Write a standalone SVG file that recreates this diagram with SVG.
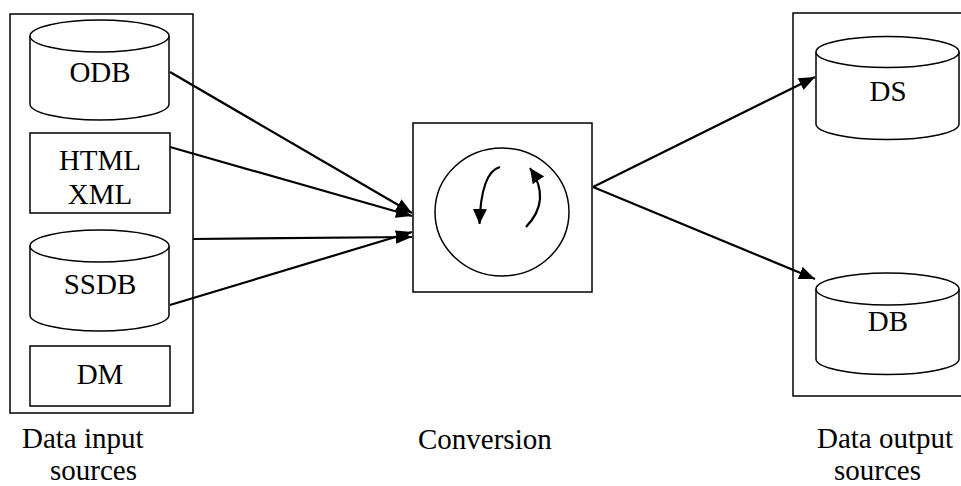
<svg xmlns="http://www.w3.org/2000/svg" width="961" height="486" viewBox="0 0 961 486">
<style>
.box{fill:#fff;stroke:#000;stroke-width:1.5}
.cyl{fill:#fff;stroke:#000;stroke-width:1.5}
.t{font-family:"Liberation Serif","Tinos","DejaVu Serif","Noto Serif",serif;font-size:29px;fill:#000}
.c{text-anchor:middle}
.edge{fill:none;stroke:#000;stroke-width:2.2}
</style>
<defs>
<marker id="ah" markerWidth="16" markerHeight="13" refX="16" refY="6.5" orient="auto" markerUnits="userSpaceOnUse">
<path d="M0,0 L16,6.5 L0,13 z" fill="#000"/>
</marker>
<marker id="ah2" markerWidth="15" markerHeight="14" refX="15" refY="7" orient="auto" markerUnits="userSpaceOnUse">
<path d="M0,0 L15,7 L0,14 z" fill="#000"/>
</marker>
</defs>
<rect width="961" height="486" fill="#fff"/>
<g id="input-container">
<rect class="box" x="10" y="14" width="183" height="399"/>
</g>
<g id="output-container">
<rect class="box" x="793" y="13" width="180" height="383"/>
</g>
<g id="odb">
<path class="cyl" d="M30,36 L30,104 A69.5,16 0 0 0 169,104 L169,36"/>
<ellipse class="cyl" cx="99.5" cy="36" rx="69.5" ry="16"/>
<text class="t c" x="100" y="82">ODB</text>
</g>
<g id="html-xml">
<rect class="box" x="30" y="133" width="140" height="80"/>
<text class="t c" x="100" y="170">HTML</text>
<text class="t c" x="100" y="204">XML</text>
</g>
<g id="ssdb">
<path class="cyl" d="M30,246 L30,315 A69.5,16 0 0 0 169,315 L169,246"/>
<ellipse class="cyl" cx="99.5" cy="246" rx="69.5" ry="16"/>
<text class="t c" x="100" y="294">SSDB</text>
</g>
<g id="dm">
<rect class="box" x="30" y="346" width="140" height="60"/>
<text class="t c" x="100" y="384">DM</text>
</g>
<g id="conversion">
<rect class="box" x="413" y="123" width="179" height="169"/>
<ellipse class="cyl" cx="502" cy="212" rx="67" ry="64"/>
<path class="edge" d="M500,167 Q481,172 479.5,224" marker-end="url(#ah2)"/>
<path class="edge" d="M526,227 Q552,200 530,168" marker-end="url(#ah2)"/>
</g>
<g id="ds">
<path class="cyl" d="M816,52 L816,124 A71.5,15.5 0 0 0 959,124 L959,52"/>
<ellipse class="cyl" cx="887.5" cy="52" rx="71.5" ry="15.5"/>
<text class="t c" x="888" y="101">DS</text>
</g>
<g id="db">
<path class="cyl" d="M816,289 L816,359 A71.5,15.5 0 0 0 959,359 L959,289"/>
<ellipse class="cyl" cx="887.5" cy="289" rx="71.5" ry="16"/>
<text class="t c" x="888" y="331">DB</text>
</g>
<g id="connectors">
<line class="edge" x1="170" y1="72" x2="412" y2="213" marker-end="url(#ah)"/>
<line class="edge" x1="170" y1="147" x2="412" y2="216" marker-end="url(#ah)"/>
<line class="edge" x1="193" y1="239" x2="412" y2="237" marker-end="url(#ah)"/>
<line class="edge" x1="170" y1="305" x2="412" y2="232" marker-end="url(#ah)"/>
<line class="edge" x1="593" y1="187" x2="815" y2="77" marker-end="url(#ah)"/>
<line class="edge" x1="593" y1="187" x2="815" y2="279" marker-end="url(#ah)"/>
</g>
<g id="labels">
<text class="t" x="22" y="448">Data input</text>
<text class="t" x="50" y="480">sources</text>
<text class="t" x="418" y="449">Conversion</text>
<text class="t" x="817" y="448">Data output</text>
<text class="t" x="834" y="480">sources</text>
</g>
</svg>
